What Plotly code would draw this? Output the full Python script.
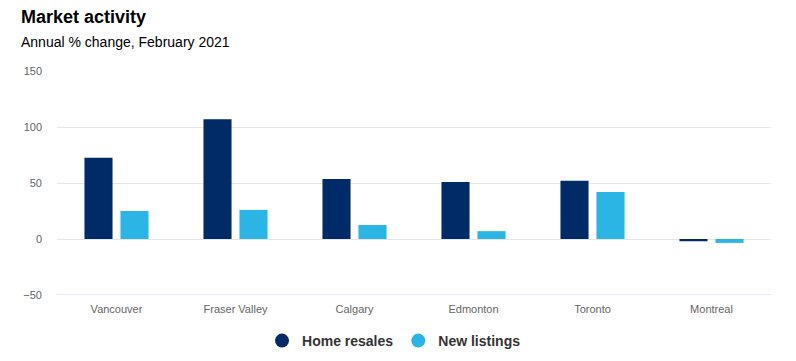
import plotly.graph_objects as go

cities = ["Vancouver", "Fraser Valley", "Calgary", "Edmonton", "Toronto", "Montreal"]
home_resales = [72.5, 107, 53.5, 51, 52, -2]
new_listings = [25, 26, 12.5, 7, 42, -3.5]

dark = "#002b66"
light = "#2bb5e4"
font = "Liberation Sans, Arial, sans-serif"

fig = go.Figure()
fig.add_trace(go.Bar(x=cities, y=home_resales, name="Home resales", marker_color=dark,
                     marker_line_width=0, showlegend=False))
fig.add_trace(go.Bar(x=cities, y=new_listings, name="New listings", marker_color=light,
                     marker_line_width=0, showlegend=False))
# legend entries with circle symbols
fig.add_trace(go.Scatter(x=[None], y=[None], mode="markers", name="Home resales",
                         marker=dict(color=dark, size=14, symbol="circle")))
fig.add_trace(go.Scatter(x=[None], y=[None], mode="markers", name="New listings",
                         marker=dict(color=light, size=14, symbol="circle")))

fig.update_layout(
    width=796, height=361,
    margin=dict(l=57, r=25, t=71, b=66),
    paper_bgcolor="white", plot_bgcolor="white",
    font=dict(family=font, color="#666666", size=11),
    barmode="group", bargap=0.395, bargroupgap=0.22,
    title=dict(text="<b>Market activity</b>", xref="container", yref="container",
               x=21/796, xanchor="left", y=1-17/361, yanchor="middle",
               font=dict(family=font, size=18, color="#000000")),
    annotations=[dict(text="Annual % change, February 2021", xref="paper", yref="paper",
                      x=(19-57)/714, xanchor="left", y=(295-42)/224, yanchor="middle",
                      showarrow=False, font=dict(family=font, size=14, color="#000000"))],
    legend=dict(orientation="h", xref="container", yref="container", x=0.495, xanchor="center",
                y=1-341/361, yanchor="middle",
                font=dict(family=font, size=14, color="#333333", weight="bold"),
                itemwidth=30, tracegroupgap=0),
    xaxis=dict(showgrid=False, showline=False, ticks="", zeroline=False,
               ticklabelstandoff=6, automargin=False,
               tickfont=dict(size=11, color="#666666")),
    yaxis=dict(range=[-50, 150], tickvals=[-50, 0, 50, 100, 150], showgrid=True,
               gridcolor="#e6e6e6", gridwidth=1, zeroline=True, zerolinecolor="#e6e6e6",
               zerolinewidth=1, showline=False, ticks="", ticklabelstandoff=14,
               automargin=False,
               tickfont=dict(size=11, color="#666666")),
    shapes=[dict(type="line", xref="paper", yref="y", x0=0, x1=1, y0=-50, y1=-50,
                 line=dict(color="#ccd6eb", width=1))],
)

fig.write_html("out.html", config={"displayModeBar": False},
               post_script="document.body.style.margin='0';document.body.style.padding='0';")
